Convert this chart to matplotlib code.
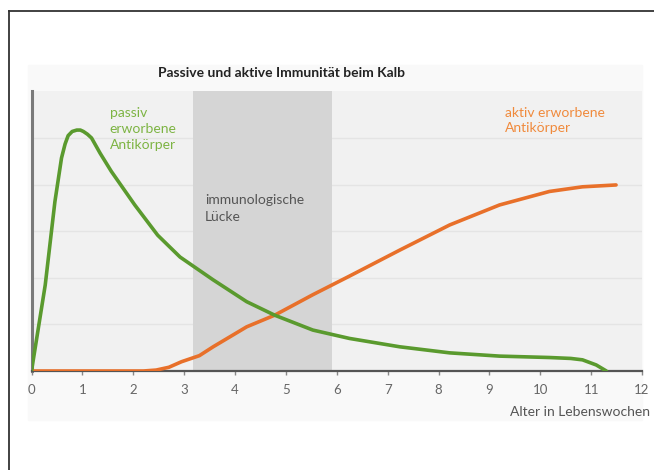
import numpy as np
import matplotlib
matplotlib.use("Agg")
import matplotlib.pyplot as plt
from matplotlib.patches import Rectangle

plt.rcParams['font.family'] = ['Lato', 'DejaVu Sans']

# Alter in Lebenswochen / relative Antikörpermenge
passiv_x = [0, 0.27, 0.46, 0.59, 0.66, 0.72, 0.8, 0.89, 0.96, 1.02, 1.1, 1.18, 1.35,
            1.57, 2.03, 2.48, 2.92, 3.57, 4.23, 4.78, 5.53, 6.25, 7.24, 8.22, 9.2,
            10.18, 10.6, 10.83, 11.1, 11.3]
passiv_y = [0, 1.85, 3.64, 4.58, 4.88, 5.06, 5.15, 5.18, 5.18, 5.15, 5.09, 5.01, 4.68,
            4.29, 3.57, 2.92, 2.45, 1.96, 1.49, 1.20, 0.88, 0.70, 0.52, 0.39, 0.32,
            0.29, 0.27, 0.24, 0.13, 0.0]

aktiv_x = [0, 2.2, 2.45, 2.7, 2.95, 3.3, 3.57, 4.0, 4.23, 4.78, 5.53, 6.25, 7.24, 8.22,
           9.2, 10.18, 10.83, 11.49]
aktiv_y = [0, 0, 0.02, 0.08, 0.2, 0.33, 0.52, 0.8, 0.95, 1.2, 1.64, 2.04, 2.6, 3.14,
           3.57, 3.86, 3.96, 4.0]

luecke = (3.17, 5.91)
xticks = list(range(0, 13))

W, H = 654, 470
fig = plt.figure(figsize=(W / 100, H / 100), dpi=100)

# Rahmen (läuft rechts und unten aus dem Bild)
fig.add_artist(plt.Line2D([9 / W, 9 / W], [0, 1 - 11 / H], color='#333333', lw=1.3))
fig.add_artist(plt.Line2D([9 / W, 1], [1 - 11 / H, 1 - 11 / H], color='#333333', lw=1.3))

# heller Hintergrund der Grafik
fig.add_artist(Rectangle((28 / W, 1 - 420 / H), (642 - 28) / W, (420 - 65) / H,
                         transform=fig.transFigure, color='#f9f9f9', zorder=0))

ax = fig.add_axes([31.5 / W, 1 - 371 / H, (642 - 31.5) / W, (371 - 91) / H])
ax.set_facecolor('#f1f1f1')
ax.set_xlim(0, 11.99)
ax.set_ylim(0, 6.02)

for yy in range(1, 6):
    ax.axhline(yy, color='#e4e4e4', lw=1.0, zorder=1)

ax.axvspan(luecke[0], luecke[1], color='#d5d5d5', lw=0, zorder=1)

ax.plot(aktiv_x, aktiv_y, color='#e8702a', lw=2.6, solid_capstyle='round',
        solid_joinstyle='round', zorder=3)
ax.plot(passiv_x, passiv_y, color='#5a9a2e', lw=2.6, solid_capstyle='round',
        solid_joinstyle='round', zorder=4)

ax.text(1.54, 5.68, "passiv\nerworbene\nAntikörper", color='#7db443', fontsize=10,
        va='top', ha='left', linespacing=1.4)
ax.text(9.3, 5.68, "aktiv erworbene\nAntikörper", color='#f08a3c', fontsize=10,
        va='top', ha='left', linespacing=1.35)
ax.text(3.41, 3.8, "immunologische\nLücke", color='#555555', fontsize=10,
        va='top', ha='left', linespacing=1.45)

for s in ['top', 'right']:
    ax.spines[s].set_visible(False)
ax.spines['left'].set_color('#7a7a7a')
ax.spines['left'].set_linewidth(2.2)
ax.spines['bottom'].set_color('#555555')
ax.spines['bottom'].set_linewidth(1.6)

ax.set_yticks([])
ax.set_xticks(xticks)
ax.set_xticklabels([str(t) for t in xticks])
ax.tick_params(axis='x', direction='out', length=3, width=1, color='#888888',
               labelcolor='#666666', labelsize=9.5, pad=6)

fig.text(158 / W, 1 - 73 / H, "Passive und aktive Immunität beim Kalb",
         fontsize=10, fontweight='bold', color='#222222', ha='left', va='center')
fig.text(650 / W, 1 - 412 / H, "Alter in Lebenswochen", fontsize=10,
         color='#555555', ha='right', va='center')

fig.savefig("out.png", dpi=100)
